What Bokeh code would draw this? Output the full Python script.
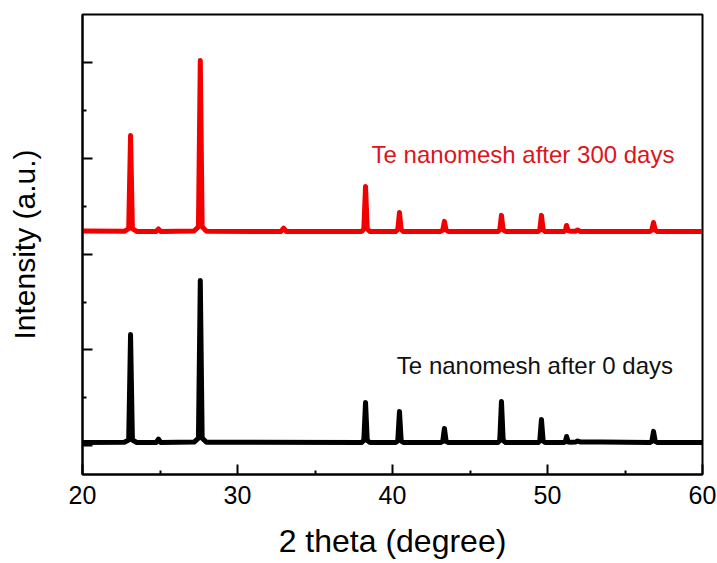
from bokeh.plotting import figure
from bokeh.models import Range1d, FixedTicker, Label
from bokeh.embed import file_html
from bokeh.resources import INLINE

# XRD traces (2theta in degrees, intensity in arbitrary counts)
black_2theta = [20.0, 22.7, 22.98, 23.1, 23.22, 23.5,
                24.75, 24.9, 25.05,
                27.2, 27.48, 27.6, 27.72, 28.0,
                38.0, 38.15, 38.26, 38.37, 38.55,
                40.2, 40.34, 40.45, 40.56, 40.7,
                43.1, 43.24, 43.35, 43.46, 43.6,
                46.8, 46.92, 47.03, 47.14, 47.3,
                49.4, 49.5, 49.61, 49.72, 49.85,
                51.05, 51.15, 51.23, 51.33, 51.5,
                51.8, 51.94, 52.1, 53.5, 55.0,
                56.6, 56.73, 56.84, 56.95, 57.1,
                60.0]
black_counts = [34, 36, 60, 1160, 60, 34,
                34, 70, 34,
                38, 80, 1725, 80, 36,
                34, 55, 452, 55, 34,
                34, 50, 358, 50, 34,
                34, 45, 181, 45, 34,
                34, 55, 463, 55, 34,
                34, 48, 275, 48, 34,
                34, 40, 97, 40, 36,
                38, 50, 40, 40, 36,
                34, 45, 150, 45, 34,
                34]

red_2theta = [20.0, 22.7, 22.98, 23.1, 23.22, 23.5,
              24.75, 24.9, 25.05,
              27.2, 27.48, 27.6, 27.72, 28.0,
              32.8, 32.97, 33.15,
              38.0, 38.15, 38.26, 38.37, 38.55,
              40.2, 40.34, 40.45, 40.56, 40.7,
              43.1, 43.24, 43.35, 43.46, 43.6,
              46.8, 46.92, 47.03, 47.14, 47.3,
              49.4, 49.5, 49.61, 49.72, 49.85,
              51.05, 51.15, 51.23, 51.33, 51.5,
              51.8, 51.94, 52.1,
              56.6, 56.73, 56.84, 56.95, 57.1,
              60.0]
red_counts = [2240, 2238, 2265, 3238, 2265, 2236,
              2236, 2262, 2236,
              2240, 2285, 4021, 2285, 2238,
              2236, 2270, 2236,
              2236, 2260, 2706, 2260, 2236,
              2236, 2255, 2435, 2255, 2236,
              2236, 2250, 2341, 2250, 2236,
              2236, 2252, 2404, 2252, 2236,
              2236, 2252, 2404, 2252, 2236,
              2236, 2245, 2299, 2245, 2238,
              2238, 2252, 2236,
              2236, 2250, 2330, 2250, 2236,
              2236]

x_ticks = [20, 30, 40, 50, 60]
x_minor = [25, 35, 45, 55]
y_ticks = [0, 1000, 2000, 3000, 4000]
y_minor = [500, 1500, 2500, 3500]

FONT = "Liberation Sans"
RED = "#f20000"

p = figure(width=717, height=563,
           x_range=Range1d(20, 60), y_range=Range1d(-300, 4500),
           min_border_left=82, min_border_right=15,
           min_border_top=14, min_border_bottom=89,
           toolbar_location=None, output_backend="svg")

p.line(black_2theta, black_counts, line_color="black", line_width=5,
       line_join="round")
p.line(red_2theta, red_counts, line_color=RED, line_width=5,
       line_join="round")

p.add_layout(Label(x=48.42, y=3039, text="Te nanomesh after 300 days",
                   text_align="center", text_baseline="middle",
                   text_font=FONT, text_font_size="24px",
                   text_color="#de141b"))
p.add_layout(Label(x=49.19, y=837, text="Te nanomesh after 0 days",
                   text_align="center", text_baseline="middle",
                   text_font=FONT, text_font_size="24px",
                   text_color="#111111"))

p.xgrid.visible = False
p.ygrid.visible = False
p.outline_line_color = "black"
p.outline_line_width = 2
p.outline_line_alpha = 1.0

for ax in (p.xaxis, p.yaxis):
    ax.axis_line_width = 2
    ax.axis_line_color = "black"
    ax.major_tick_in = 10
    ax.major_tick_out = 0
    ax.minor_tick_in = 4
    ax.minor_tick_out = 0
    ax.major_tick_line_width = 2
    ax.minor_tick_line_width = 2
    ax.axis_label_text_font = FONT
    ax.axis_label_text_font_style = "normal"
    ax.axis_label_text_color = "black"

p.xaxis.ticker = FixedTicker(ticks=x_ticks, minor_ticks=x_minor)
p.xaxis.major_label_text_font = FONT
p.xaxis.major_label_text_font_size = "25px"
p.xaxis.major_label_text_color = "black"
p.xaxis.major_label_standoff = 11
p.xaxis.axis_label = "2 theta (degree)"
p.xaxis.axis_label_text_font_size = "32px"
p.xaxis.axis_label_standoff = 16

p.yaxis.ticker = FixedTicker(ticks=y_ticks, minor_ticks=y_minor)
p.yaxis.major_label_text_font_size = "0px"
p.yaxis.major_label_text_color = None
p.yaxis.major_label_standoff = 0
p.yaxis.axis_label = "Intensity (a.u.)"
p.yaxis.axis_label_text_font_size = "30px"
p.yaxis.axis_label_standoff = 42

open("out.html", "w").write(file_html(p, INLINE))
